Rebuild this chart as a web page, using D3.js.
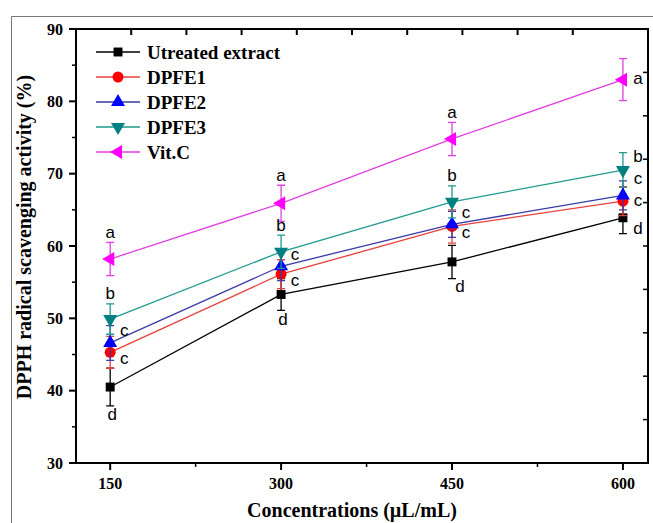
<!DOCTYPE html>
<html>
<head>
<meta charset="utf-8">
<script src="https://d3js.org/d3.v7.min.js"></script>
<style>
  html, body { margin: 0; padding: 0; background: #fff; }
  svg { display: block; }
  .tick-lbl { font-family: "Liberation Serif", "Times New Roman", serif; font-weight: bold; font-size: 16px; }
  .ax-title { font-family: "Liberation Serif", "Times New Roman", serif; font-weight: bold; font-size: 20px; }
  .leg { font-family: "Liberation Serif", "Times New Roman", serif; font-weight: bold; font-size: 19px; }
  .let { font-family: "Liberation Sans", Arial, sans-serif; font-size: 17px; }
</style>
</head>
<body>
<script>
// data
var concentrations = [150, 300, 450, 600];
var xTicks = [150, 300, 450, 600];
var xMinor = [225, 375, 525];
var yTicks = [30, 40, 50, 60, 70, 80, 90];
var yMinor = [35, 45, 55, 65, 75, 85];

var names = ["Utreated extract", "DPFE1", "DPFE2", "DPFE3", "Vit.C"];
var utreated = [40.5, 53.3, 57.8, 63.9];
var utreatedErr = [2.6, 2.2, 2.3, 2.2];
var dpfe1 = [45.3, 56.1, 62.7, 66.2];
var dpfe1Err = [2.2, 2.0, 2.3, 2.0];
var dpfe2 = [46.6, 57.2, 63.0, 67.0];
var dpfe2Err = [2.4, 2.0, 1.8, 2.0];
var dpfe3 = [49.9, 59.2, 66.1, 70.5];
var dpfe3Err = [2.1, 2.3, 2.2, 2.4];
var vitc = [58.2, 65.9, 74.8, 83.0];
var vitcErr = [2.3, 2.5, 2.3, 2.9];

var utreatedLet = ["d", "d", "d", "d"];
var dpfe1Let = ["c", "c", "c", "c"];
var dpfe2Let = ["c", "c", "c", "c"];
var dpfe3Let = ["b", "b", "b", "b"];
var vitcLet = ["a", "a", "a", "a"];

var W = 653, H = 523;
var svg = d3.select("body").append("svg").attr("width", W).attr("height", H);

// outer frame of the figure
svg.append("path").attr("d", "M11.5," + H + "V16.5H" + W)
    .attr("fill", "none").attr("stroke", "#777").attr("stroke-width", 1);

var x = d3.scaleLinear().domain([120, 622]).range([76, 648]);
var y = d3.scaleLinear().domain([30, 90]).range([463, 29]);
// the mirrored axes have their own even tick spacing
var xTop = d3.scaleLinear().domain([0, 10]).range([76, 628]);
var yRight = d3.scaleLinear().domain([0, 10]).range([463, 29]);

var g = svg.append("g");

// frame lines
g.append("rect").attr("x", x.range()[0]).attr("y", y.range()[1])
    .attr("width", x.range()[1] - x.range()[0]).attr("height", y.range()[0] - y.range()[1])
    .attr("fill", "none").attr("stroke", "#000").attr("stroke-width", 2);

// left axis
g.selectAll(".ly").data(yTicks).enter().append("line")
    .attr("x1", 76).attr("x2", 69).attr("y1", d => y(d)).attr("y2", d => y(d))
    .attr("stroke", "#000").attr("stroke-width", 2);
g.selectAll(".lym").data(yMinor).enter().append("line")
    .attr("x1", 76).attr("x2", 72).attr("y1", d => y(d)).attr("y2", d => y(d))
    .attr("stroke", "#000").attr("stroke-width", 1.5);
g.selectAll(".lyl").data(yTicks).enter().append("text").attr("class", "tick-lbl")
    .attr("x", 63).attr("y", d => y(d)).attr("dy", "0.35em").attr("text-anchor", "end")
    .text(d => d);

// bottom axis
g.selectAll(".bx").data(xTicks).enter().append("line")
    .attr("x1", d => x(d)).attr("x2", d => x(d)).attr("y1", 463).attr("y2", 470)
    .attr("stroke", "#000").attr("stroke-width", 2);
g.selectAll(".bxm").data(xMinor).enter().append("line")
    .attr("x1", d => x(d)).attr("x2", d => x(d)).attr("y1", 463).attr("y2", 467)
    .attr("stroke", "#000").attr("stroke-width", 1.5);
g.selectAll(".bxl").data(xTicks).enter().append("text").attr("class", "tick-lbl")
    .attr("x", d => x(d)).attr("y", 489).attr("text-anchor", "middle")
    .text(d => d);

// top and right ticks (inward)
g.selectAll(".tx").data(d3.range(1, 10)).enter().append("line")
    .attr("x1", d => xTop(d)).attr("x2", d => xTop(d)).attr("y1", 29).attr("y2", 35)
    .attr("stroke", "#000").attr("stroke-width", 2);
g.selectAll(".ry").data(d3.range(1, 10)).enter().append("line")
    .attr("x1", 648).attr("x2", 643).attr("y1", d => yRight(d)).attr("y2", d => yRight(d))
    .attr("stroke", "#000").attr("stroke-width", 1.5);

// axis titles
svg.append("text").attr("class", "ax-title")
    .attr("transform", "translate(31,237) rotate(-90)").attr("text-anchor", "middle")
    .text("DPPH radical scavenging activity (%)");
svg.append("text").attr("class", "ax-title")
    .attr("x", 352).attr("y", 517).attr("text-anchor", "middle")
    .text("Concentrations (\u00b5L/mL)");

var series = [
  {name: names[0], v: utreated, e: utreatedErr, lt: utreatedLet, color: "#000000", line: "#000000",
   sym: d3.symbolSquare, size: 80, rot: 0, place: ["below", "below", "belowR", "rightLow"]},
  {name: names[1], v: dpfe1, e: dpfe1Err, lt: dpfe1Let, color: "#ff0000", line: "#e8403a",
   sym: d3.symbolCircle, size: 95, rot: 0, place: ["rightDown", "rightDown", "rightDown", "right"]},
  {name: names[2], v: dpfe2, e: dpfe2Err, lt: dpfe2Let, color: "#0000ff", line: "#3a3aa8",
   sym: d3.symbolTriangle, size: 85, rot: 0, place: ["rightUp", "rightUp", "rightUp", "rightUpHi"]},
  {name: names[3], v: dpfe3, e: dpfe3Err, lt: dpfe3Let, color: "#008080", line: "#1e9a8e",
   sym: d3.symbolTriangle, size: 85, rot: 180, place: ["above", "above", "above", "rightCap"]},
  {name: names[4], v: vitc, e: vitcErr, lt: vitcLet, color: "#ff00ff", line: "#e040e0",
   sym: d3.symbolTriangle, size: 85, rot: -90, place: ["above", "above", "above", "right"]}
];

var line = d3.line().x((d, i) => x(concentrations[i])).y(d => y(d));

series.forEach(function(s) {
  var sg = g.append("g");
  sg.append("path").attr("d", line(s.v)).attr("fill", "none")
    .attr("stroke", s.line).attr("stroke-width", 1.3);
  s.v.forEach(function(v, i) {
    var cx = x(concentrations[i]);
    var hi = y(v + s.e[i]), lo = y(v - s.e[i]);
    sg.append("path").attr("d", "M" + cx + "," + hi + "V" + lo +
        "M" + (cx - 4) + "," + hi + "H" + (cx + 4) + "M" + (cx - 4) + "," + lo + "H" + (cx + 4))
      .attr("fill", "none").attr("stroke", s.line).attr("stroke-width", 1.3);
  });
  sg.selectAll("path.m").data(s.v).enter().append("path").attr("class", "m")
    .attr("d", d3.symbol().type(s.sym).size(s.size))
    .attr("transform", (d, i) => "translate(" + x(concentrations[i]) + "," + y(d) + ") rotate(" + s.rot + ")")
    .attr("fill", s.color);
});

// significance letters
function letterPos(s, i) {
  var cx = x(concentrations[i]), cy = y(s.v[i]);
  var hi = y(s.v[i] + s.e[i]), lo = y(s.v[i] - s.e[i]);
  switch (s.place[i]) {
    case "above": return [cx, hi - 10];
    case "below": return [cx + 2, lo + 9];
    case "belowR": return [cx + 8, lo + 8];
    case "right": return [cx + 15, cy - 1];
    case "rightLow": return [cx + 15, cy + 11];
    case "rightUp": return [cx + 14, cy - 12];
    case "rightUpHi": return [cx + 15, cy - 17];
    case "rightDown": return [cx + 14, cy + 6];
    case "rightCap": return [cx + 15, hi + 4];
  }
}
series.forEach(function(s) {
  s.lt.forEach(function(t, i) {
    var p = letterPos(s, i);
    g.append("text").attr("class", "let").attr("x", p[0]).attr("y", p[1])
      .attr("dy", "0.32em").attr("text-anchor", "middle").text(t);
  });
});

// legend
var leg = svg.append("g");
series.forEach(function(s, i) {
  var ly = 52 + i * 25;
  leg.append("line").attr("x1", 96).attr("x2", 140).attr("y1", ly).attr("y2", ly)
    .attr("stroke", s.line).attr("stroke-width", 1.3);
  leg.append("path").attr("d", d3.symbol().type(s.sym).size(s.size))
    .attr("transform", "translate(118," + ly + ") rotate(" + s.rot + ")").attr("fill", s.color);
  leg.append("text").attr("class", "leg").attr("x", 147).attr("y", ly).attr("dy", "0.35em").text(s.name);
});
</script>
</body>
</html>
